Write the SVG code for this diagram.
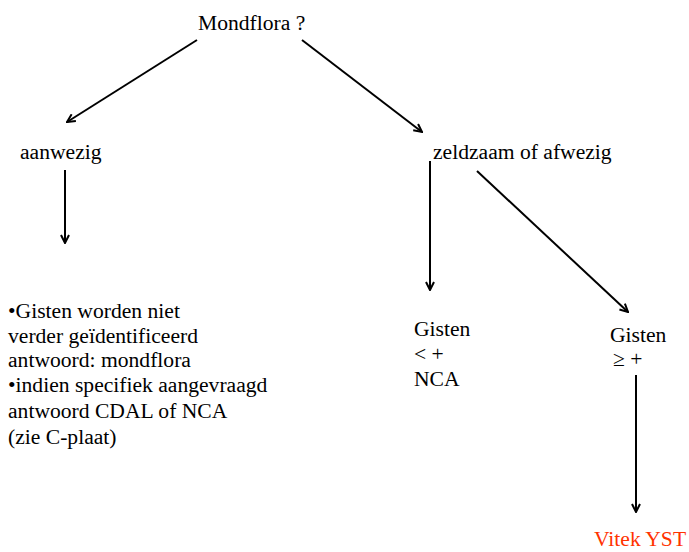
<svg xmlns="http://www.w3.org/2000/svg" width="689" height="552" viewBox="0 0 689 552">
<defs>
<marker id="ah" viewBox="0 0 10 10" refX="9" refY="5" markerWidth="5" markerHeight="5" orient="auto" markerUnits="strokeWidth">
<path d="M1,1 L9,5 L1,9" fill="none" stroke="#000" stroke-width="2"/>
</marker>
<style>
text{font-family:"Liberation Serif","Times New Roman",serif;font-size:21.6px;fill:#000}
.red{fill:#FF3300}
.c line{stroke:#000;stroke-width:2;marker-end:url(#ah)}
</style>
</defs>
<rect width="689" height="552" fill="#fff"/>
<g id="connectors" class="c">
<line x1="197" y1="40" x2="67" y2="122"/>
<line x1="302" y1="40" x2="422" y2="132"/>
<line x1="65" y1="170" x2="65" y2="243"/>
<line x1="430" y1="161" x2="430" y2="290"/>
<line x1="477" y1="171" x2="628" y2="312"/>
<line x1="636" y1="375" x2="636" y2="512"/>
</g>
<g id="mondflora"><text x="198" y="30">Mondflora ?</text></g>
<g id="aanwezig"><text x="20" y="159">aanwezig</text></g>
<g id="zeldzaam"><text x="433" y="159">zeldzaam of afwezig</text></g>
<g id="gisten-info">
<text x="8" y="318">•Gisten worden niet</text>
<text x="8" y="343">verder geïdentificeerd</text>
<text x="8" y="367">antwoord: mondflora</text>
<text x="8" y="392">•indien specifiek aangevraagd</text>
<text x="8" y="418">antwoord CDAL of NCA</text>
<text x="8" y="444">(zie C-plaat)</text>
</g>
<g id="gisten-laag">
<text x="414" y="336">Gisten</text>
<text x="414" y="361">&lt; +</text>
<text x="414" y="386">NCA</text>
</g>
<g id="gisten-hoog">
<text x="610" y="342">Gisten</text>
<text x="613" y="366">≥ +</text>
</g>
<g id="vitek"><text class="red" x="594" y="546">Vitek YST</text></g>
</svg>
